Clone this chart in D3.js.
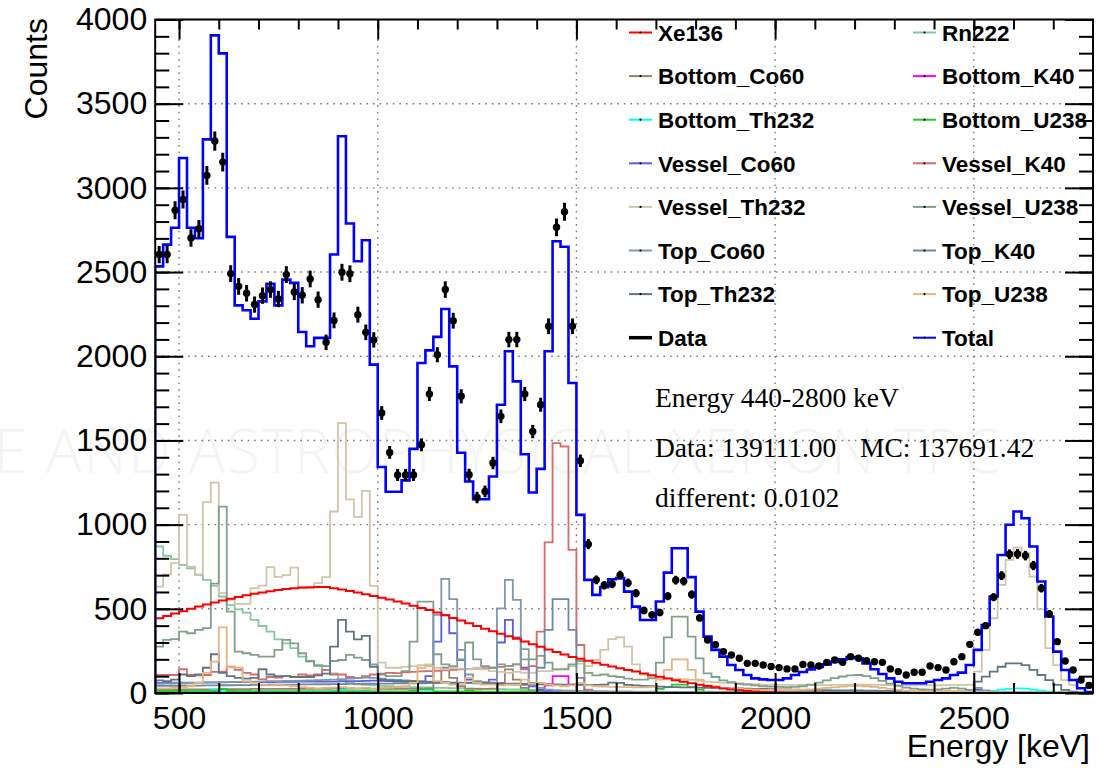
<!DOCTYPE html>
<html>
<head>
<meta charset="utf-8">
<script src="https://cdn.jsdelivr.net/npm/d3@7"></script>
<style>
  html, body { margin: 0; padding: 0; background: #ffffff; }
  svg { display: block; }
</style>
</head>
<body>
<svg id="chart" width="1117" height="768"></svg>
<script>
// ---- binning and axis ranges ----
const binLow = 440;
const binWidth = 20;
const energyRange = [440, 2800];
const countRange = [0, 4000];
const majorXTicks = [500, 1000, 1500, 2000, 2500];
const majorYTicks = [0, 500, 1000, 1500, 2000, 2500, 3000, 3500, 4000];

// ---- measured spectrum (counts per 20 keV bin) ----
const dataCounts = [
  2604, 2604, 2867, 2931, 2703, 2757, 3074, 3278, 3153, 2491,
  2415, 2374, 2307, 2360, 2396, 2340, 2485, 2382, 2362, 2459,
  2336, 2083, 2213, 2499, 2490, 2247, 2142, 2097, 1663, 1429,
  1295, 1295, 1295, 1474, 1776, 2009, 2396, 2211, 1762, 1296,
  1161, 1197, 1366, 1643, 2099, 2099, 1776, 1553, 1712, 2178,
  2766, 2858, 2178, 1379, 884, 672, 640, 648, 700, 654,
  593, 490, 464, 478, 575, 670, 664, 585, 446, 315,
  287, 246, 226, 206, 176, 176, 166, 157, 151, 143,
  143, 170, 166, 160, 182, 196, 182, 216, 206, 192,
  186, 182, 143, 127, 107, 123, 123, 160, 151, 137,
  186, 216, 289, 361, 400, 569, 697, 824, 826, 816,
  757, 622, 470, 305, 190, 137, 77, 45
];

// ---- summed Monte Carlo ----
const totalMC = [
  2534, 2663, 2763, 3177, 2763, 2701, 3288, 3906, 3799, 2709,
  2302, 2273, 2223, 2326, 2430, 2302, 2455, 2436, 2144, 2059,
  2109, 2109, 2604, 3307, 2788, 2564, 2689, 1950, 1342, 1195,
  1195, 1263, 1450, 1960, 2035, 2115, 2281, 1940, 1427, 1256,
  1151, 1151, 1286, 1712, 2030, 1851, 1418, 1191, 1331, 2030,
  2683, 2650, 1841, 1058, 672, 583, 628, 676, 682, 602,
  513, 434, 434, 543, 715, 860, 860, 688, 483, 335,
  256, 216, 166, 137, 107, 87, 81, 77, 77, 87,
  107, 125, 140, 155, 170, 185, 200, 214, 206, 176,
  141, 113, 87, 67, 58, 58, 58, 67, 77, 87,
  107, 121, 166, 256, 404, 573, 820, 999, 1078, 1038,
  870, 662, 454, 246, 137, 77, 28, 5
];

// ---- individual background / signal components ----
const xe136 = [
  444, 458, 472, 486, 500, 513, 526, 538, 549, 560,
  570, 580, 589, 597, 604, 611, 617, 622, 626, 628,
  630, 629, 622, 615, 606, 597, 587, 576, 566, 555,
  543, 531, 518, 505, 493, 478, 462, 446, 430, 414,
  398, 382, 367, 352, 337, 322, 306, 290, 274, 258,
  243, 228, 214, 203, 192, 180, 168, 157, 147, 137,
  127, 116, 106, 96, 86, 76, 67, 58, 49, 41,
  34, 27, 21, 16, 12, 9, 6, 4, 3, 2,
  1, 1, 1, 1, 0, 0, 0, 0, 0, 0,
  0, 0, 0, 0, 0, 0, 0, 0, 0, 0,
  0, 0, 0, 0, 0, 0, 0, 0, 0, 0,
  0, 0, 0, 0, 0, 0, 0, 0
];
const rn222 = [
  870, 815, 795, 761, 741, 702, 672, 636, 573, 523,
  497, 477, 434, 398, 365, 319, 295, 266, 216, 186,
  160, 137, 117, 77, 60, 52, 48, 45, 42, 40,
  38, 36, 35, 34, 33, 31, 30, 29, 28, 27,
  26, 25, 24, 23, 22, 21, 20, 19, 18, 17,
  16, 15, 14, 13, 12, 11, 10, 10, 9, 9,
  8, 8, 7, 7, 7, 6, 6, 6, 5, 5,
  5, 5, 4, 4, 4, 4, 3, 3, 3, 3,
  3, 3, 3, 2, 2, 2, 2, 2, 2, 2,
  2, 2, 2, 2, 2, 1, 1, 1, 1, 1,
  1, 1, 1, 1, 1, 1, 1, 1, 1, 1,
  1, 1, 1, 1, 1, 1, 1, 1
];
const bottomCo60 = [
  20, 20, 21, 21, 21, 22, 22, 22, 23, 23,
  23, 23, 24, 24, 24, 24, 25, 25, 25, 25,
  25, 25, 26, 26, 26, 26, 26, 26, 25, 25,
  25, 25, 25, 26, 28, 60, 150, 90, 40, 25,
  24, 24, 26, 60, 140, 80, 30, 10, 8, 7,
  6, 6, 5, 5, 5, 5, 4, 4, 4, 4,
  4, 4, 4, 4, 3, 3, 3, 3, 3, 3,
  3, 3, 3, 3, 3, 3, 3, 3, 2, 2,
  2, 2, 2, 2, 2, 2, 2, 2, 2, 2,
  2, 2, 2, 2, 2, 2, 2, 2, 2, 2,
  2, 2, 4, 8, 4, 2, 1, 1, 1, 1,
  1, 1, 1, 1, 1, 1, 1, 1
];
const bottomK40 = [
  8, 8, 8, 8, 8, 8, 8, 8, 8, 8,
  8, 8, 8, 8, 8, 8, 8, 7, 7, 7,
  7, 7, 7, 7, 7, 7, 7, 7, 7, 7,
  7, 7, 7, 7, 7, 7, 6, 6, 6, 6,
  6, 6, 6, 6, 6, 6, 6, 6, 15, 45,
  100, 100, 50, 10, 1, 0, 0, 0, 0, 0,
  0, 0, 0, 0, 0, 0, 0, 0, 0, 0,
  0, 0, 0, 0, 0, 0, 0, 0, 0, 0,
  0, 0, 0, 0, 0, 0, 0, 0, 0, 0,
  0, 0, 0, 0, 0, 0, 0, 0, 0, 0,
  0, 0, 0, 0, 0, 0, 0, 0, 0, 0,
  0, 0, 0, 0, 0, 0, 0, 0
];
const bottomTh232 = [
  10, 10, 11, 12, 11, 11, 13, 20, 11, 10,
  10, 10, 10, 11, 10, 10, 10, 10, 10, 10,
  10, 10, 12, 18, 12, 11, 12, 8, 6, 6,
  6, 6, 6, 6, 6, 5, 5, 5, 5, 5,
  5, 5, 5, 5, 5, 5, 5, 5, 5, 5,
  5, 5, 5, 5, 5, 5, 5, 5, 5, 5,
  4, 4, 4, 4, 4, 4, 4, 4, 4, 4,
  4, 4, 4, 4, 4, 4, 4, 4, 4, 4,
  4, 4, 4, 4, 4, 4, 4, 4, 4, 4,
  4, 4, 4, 4, 4, 4, 3, 3, 3, 3,
  3, 3, 3, 5, 8, 13, 20, 25, 28, 26,
  20, 14, 8, 4, 2, 2, 2, 2
];
const bottomU238 = [
  12, 12, 12, 12, 11, 11, 11, 13, 25, 12,
  11, 11, 10, 10, 10, 10, 10, 10, 10, 10,
  10, 10, 10, 10, 10, 9, 9, 9, 9, 9,
  9, 9, 12, 20, 20, 10, 9, 9, 9, 12,
  9, 8, 8, 8, 8, 8, 10, 8, 8, 8,
  8, 8, 8, 9, 7, 7, 7, 7, 7, 6,
  6, 6, 8, 25, 35, 50, 50, 35, 20, 8,
  6, 5, 5, 5, 5, 4, 4, 4, 4, 4,
  4, 4, 5, 6, 7, 8, 10, 10, 10, 9,
  8, 6, 5, 4, 3, 3, 3, 3, 3, 3,
  3, 3, 3, 3, 3, 3, 3, 3, 3, 3,
  2, 2, 2, 2, 2, 1, 1, 1
];
const vesselCo60 = [
  60, 61, 61, 62, 62, 62, 63, 63, 63, 64,
  64, 64, 65, 65, 65, 66, 66, 66, 67, 67,
  67, 68, 68, 69, 70, 71, 72, 73, 72, 70,
  68, 66, 64, 62, 100, 305, 464, 355, 196, 80,
  60, 55, 80, 300, 434, 330, 150, 40, 20, 12,
  10, 9, 8, 8, 7, 7, 7, 6, 6, 6,
  6, 5, 5, 5, 5, 5, 5, 4, 4, 4,
  4, 4, 4, 4, 4, 4, 3, 3, 3, 3,
  3, 3, 3, 3, 3, 3, 3, 3, 3, 3,
  3, 3, 3, 3, 3, 3, 3, 3, 3, 3,
  3, 4, 10, 20, 10, 3, 2, 2, 2, 2,
  1, 1, 1, 1, 1, 1, 1, 1
];
const vesselK40 = [
  107, 107, 107, 141, 107, 105, 107, 125, 127, 156,
  137, 120, 110, 81, 95, 92, 100, 95, 110, 105,
  110, 137, 110, 110, 95, 90, 100, 110, 115, 120,
  118, 122, 125, 128, 130, 132, 135, 138, 140, 142,
  145, 148, 150, 155, 160, 170, 140, 160, 365, 894,
  1484, 1464, 850, 285, 20, 5, 3, 2, 1, 1,
  0, 0, 0, 0, 0, 0, 0, 0, 0, 0,
  0, 0, 0, 0, 0, 0, 0, 0, 0, 0,
  0, 0, 0, 0, 0, 0, 0, 0, 0, 0,
  0, 0, 0, 0, 0, 0, 0, 0, 0, 0,
  0, 0, 0, 0, 0, 0, 0, 0, 0, 0,
  0, 0, 0, 0, 0, 0, 0, 0
];
const vesselTh232 = [
  632, 705, 771, 1058, 751, 705, 1134, 1250, 593, 553,
  529, 529, 622, 638, 747, 690, 700, 745, 622, 622,
  652, 688, 1078, 1603, 1150, 1046, 1200, 636, 180, 150,
  150, 155, 160, 165, 170, 150, 140, 150, 145, 140,
  150, 140, 130, 125, 120, 125, 120, 120, 130, 130,
  140, 145, 160, 175, 160, 196, 256, 320, 331, 275,
  170, 110, 95, 90, 88, 85, 82, 78, 72, 68,
  64, 60, 58, 56, 54, 52, 50, 49, 48, 48,
  48, 48, 47, 47, 47, 48, 48, 49, 50, 50,
  49, 48, 47, 46, 46, 46, 46, 46, 46, 47,
  47, 48, 48, 127, 256, 444, 642, 791, 864, 830,
  692, 497, 266, 166, 77, 48, 30, 5
];
const vesselU238 = [
  275, 315, 320, 365, 355, 375, 385, 650, 1107, 483,
  246, 236, 226, 216, 216, 256, 315, 295, 236, 190,
  166, 160, 190, 196, 226, 210, 196, 170, 110, 100,
  100, 130, 305, 543, 543, 230, 170, 160, 200, 300,
  200, 160, 150, 170, 160, 170, 260, 200, 220, 180,
  140, 140, 170, 190, 120, 105, 110, 100, 95, 85,
  80, 80, 87, 180, 330, 454, 454, 335, 206, 117,
  95, 75, 65, 55, 50, 45, 40, 38, 36, 35,
  36, 40, 50, 62, 75, 88, 98, 105, 107, 100,
  88, 72, 56, 42, 32, 26, 22, 20, 22, 26,
  30, 26, 18, 12, 8, 7, 6, 6, 5, 5,
  4, 4, 3, 3, 2, 2, 1, 1
];
const topCo60 = [
  55, 56, 58, 58, 60, 60, 62, 62, 64, 64,
  66, 66, 68, 68, 70, 70, 72, 72, 74, 75,
  76, 78, 80, 82, 85, 88, 92, 90, 85, 80,
  78, 75, 72, 70, 68, 464, 678, 557, 256, 110,
  70, 65, 62, 503, 672, 553, 200, 60, 30, 20,
  15, 12, 12, 10, 10, 9, 9, 8, 8, 8,
  7, 7, 7, 7, 6, 6, 6, 6, 6, 6,
  5, 5, 5, 5, 5, 5, 5, 5, 5, 5,
  4, 4, 4, 4, 4, 4, 4, 4, 4, 4,
  4, 4, 4, 4, 4, 4, 4, 4, 4, 4,
  4, 5, 15, 30, 15, 4, 3, 3, 2, 2,
  2, 2, 2, 2, 2, 2, 2, 2
];
const topK40 = [
  42, 42, 43, 43, 44, 44, 45, 45, 46, 46,
  47, 47, 48, 48, 49, 49, 50, 50, 51, 51,
  52, 52, 53, 53, 54, 54, 55, 55, 56, 56,
  57, 57, 58, 58, 59, 59, 60, 60, 61, 62,
  62, 60, 58, 55, 52, 50, 48, 60, 150, 375,
  557, 557, 375, 90, 2, 1, 1, 1, 1, 1,
  0, 0, 0, 0, 0, 0, 0, 0, 0, 0,
  0, 0, 0, 0, 0, 0, 0, 0, 0, 0,
  0, 0, 0, 0, 0, 0, 0, 0, 0, 0,
  0, 0, 0, 0, 0, 0, 0, 0, 0, 0,
  0, 0, 0, 0, 0, 0, 0, 0, 0, 0,
  0, 0, 0, 0, 0, 0, 0, 0
];
const topTh232 = [
  75, 70, 80, 110, 100, 110, 150, 230, 120, 100,
  90, 85, 90, 141, 110, 100, 100, 95, 95, 95,
  105, 115, 275, 434, 365, 319, 339, 156, 80, 75,
  72, 70, 70, 68, 66, 65, 64, 62, 60, 60,
  58, 58, 57, 56, 55, 55, 54, 53, 52, 52,
  51, 50, 50, 49, 48, 48, 50, 62, 60, 48,
  45, 42, 40, 38, 36, 35, 34, 33, 32, 31,
  30, 29, 28, 27, 26, 25, 24, 23, 22, 21,
  20, 19, 18, 18, 17, 16, 16, 15, 15, 14,
  14, 13, 13, 12, 12, 11, 11, 10, 10, 10,
  9, 9, 8, 67, 97, 127, 156, 176, 176, 166,
  137, 107, 77, 48, 18, 8, 4, 2
];
const topU238 = [
  28, 28, 30, 35, 40, 60, 120, 186, 390, 153,
  150, 70, 60, 50, 45, 50, 45, 40, 35, 30,
  28, 30, 32, 35, 30, 28, 30, 25, 30, 32,
  35, 40, 60, 150, 160, 70, 60, 50, 55, 90,
  60, 50, 50, 45, 50, 50, 80, 55, 60, 50,
  45, 40, 45, 60, 45, 40, 38, 36, 35, 35,
  34, 34, 36, 80, 137, 200, 200, 137, 80, 45,
  40, 30, 26, 24, 22, 20, 19, 18, 18, 18,
  19, 20, 22, 26, 30, 34, 38, 42, 42, 40,
  36, 30, 24, 18, 14, 12, 10, 9, 9, 10,
  12, 10, 8, 6, 5, 4, 4, 4, 4, 3,
  3, 3, 2, 2, 2, 1, 1, 1
];

// ---- legend / series names and colours ----
const seriesNames = ["Xe136", "Rn222", "Bottom_Co60", "Bottom_K40", "Bottom_Th232", "Bottom_U238",
  "Vessel_Co60", "Vessel_K40", "Vessel_Th232", "Vessel_U238", "Top_Co60", "Top_K40",
  "Top_Th232", "Top_U238", "Data", "Total"];
const seriesColors = ["#ff0000", "#86c7a0", "#9b7f73", "#ff00ff", "#00ffff", "#22cc22",
  "#5c5ce6", "#d66b6b", "#cfc6aa", "#7fa08a", "#7f98aa", "#6e8aa0",
  "#627384", "#e6b47c", "#000000", "#0000ff"];
const seriesValues = [xe136, rn222, bottomCo60, bottomK40, bottomTh232, bottomU238,
  vesselCo60, vesselK40, vesselTh232, vesselU238, topCo60, topK40, topTh232, topU238];

// ---- summary text ----
const summaryLines = [
  { parts: [["Energy 440-2800 keV", 0]] },
  { parts: [["Data: 139111.00", 0], ["MC: 137691.42", 205]] },
  { parts: [["different: 0.0102", 0]] }
];

// ================= drawing =================
const svg = d3.select("#chart");
const W = 1117, H = 768;
const frame = { left: 155.2, right: 1093, top: 19.5, bottom: 693 };

const x = d3.scaleLinear().domain(energyRange).range([frame.left, frame.right]);
const y = d3.scaleLinear().domain(countRange).range([frame.bottom, frame.top]);

svg.append("rect").attr("width", W).attr("height", H).attr("fill", "#ffffff");

// very faint logo strapline in the background
svg.append("text")
  .attr("x", -6).attr("y", 473)
  .attr("fill", "#f4f4f4")
  .attr("font-family", "'Open Sans', 'Liberation Sans', sans-serif")
  .attr("font-size", 60).attr("font-weight", 300)
  .attr("textLength", 1006).attr("lengthAdjust", "spacing")
  .text("E AND ASTROPHYSICAL XENON TPC");

// clip region for the histograms
svg.append("defs").append("clipPath").attr("id", "plotClip")
  .append("rect")
  .attr("x", frame.left).attr("y", frame.top)
  .attr("width", frame.right - frame.left).attr("height", frame.bottom - frame.top);

// dotted grid at the major ticks
const grid = svg.append("g").attr("stroke", "#7a7a7a").attr("stroke-width", 1.4)
  .attr("stroke-dasharray", "1.6,5");
grid.selectAll("line.gx").data(majorXTicks).join("line")
  .attr("x1", d => x(d)).attr("x2", d => x(d))
  .attr("y1", frame.top).attr("y2", frame.bottom);
grid.selectAll("line.gy").data(majorYTicks.filter(v => v > 0 && v < 4000)).join("line")
  .attr("x1", frame.left).attr("x2", frame.right)
  .attr("y1", d => y(d)).attr("y2", d => y(d));

// step outline of a binned histogram
function histPath(values) {
  let p = "M" + x(binLow) + "," + y(0);
  values.forEach((v, i) => {
    const v0 = Math.max(v, 0);
    p += "V" + y(v0) + "H" + x(binLow + (i + 1) * binWidth);
  });
  p += "V" + y(0);
  return p;
}

const plot = svg.append("g").attr("clip-path", "url(#plotClip)");

// component histograms, Xe136 drawn last so it stays on top
const drawOrder = d3.range(1, seriesValues.length).concat([0]);
drawOrder.forEach(k => {
  plot.append("path")
    .attr("d", histPath(seriesValues[k]))
    .attr("fill", "none")
    .attr("stroke", seriesColors[k])
    .attr("stroke-width", k === 0 ? 2 : 1.8);
});

// summed MC
plot.append("path")
  .attr("d", histPath(totalMC))
  .attr("fill", "none")
  .attr("stroke", seriesColors[15])
  .attr("stroke-width", 2.6);

// data with statistical errors
const pts = plot.append("g").attr("fill", "#000").attr("stroke", "#000");
pts.selectAll("line").data(dataCounts).join("line")
  .attr("x1", (d, i) => x(binLow + (i + 0.5) * binWidth))
  .attr("x2", (d, i) => x(binLow + (i + 0.5) * binWidth))
  .attr("y1", d => y(d - Math.sqrt(d)))
  .attr("y2", d => y(d + Math.sqrt(d)))
  .attr("stroke-width", 3);
pts.selectAll("circle").data(dataCounts).join("circle")
  .attr("cx", (d, i) => x(binLow + (i + 0.5) * binWidth))
  .attr("cy", d => y(d))
  .attr("r", 3.7)
  .attr("stroke", "none");

// ---- axes with inward ticks ----
const axisFont = "'Liberation Sans', Arial, Helvetica, sans-serif";
function styleAxis(g) {
  g.select(".domain").remove();
  g.selectAll(".tick line").attr("stroke", "#000").attr("stroke-width", 2);
  g.selectAll("text").attr("fill", "#000").attr("font-family", axisFont).attr("font-size", 32);
}
const minorX = d3.range(500, 2800, 100);
const minorY = d3.range(0, 4001, 100);

svg.append("g").attr("transform", `translate(${frame.left},0)`)
  .call(d3.axisLeft(y).tickValues(minorY).tickSizeInner(-14).tickSizeOuter(0).tickFormat(""))
  .call(styleAxis);
svg.append("g").attr("transform", `translate(${frame.left},0)`)
  .call(d3.axisLeft(y).tickValues(majorYTicks).tickSizeInner(-28).tickSizeOuter(0).tickPadding(8).tickFormat(d3.format("d")))
  .call(styleAxis);
svg.append("g").attr("transform", `translate(${frame.right},0)`)
  .call(d3.axisRight(y).tickValues(minorY).tickSizeInner(-14).tickSizeOuter(0).tickFormat(""))
  .call(styleAxis);
svg.append("g").attr("transform", `translate(${frame.right},0)`)
  .call(d3.axisRight(y).tickValues(majorYTicks).tickSizeInner(-28).tickSizeOuter(0).tickFormat(""))
  .call(styleAxis);

svg.append("g").attr("transform", `translate(0,${frame.bottom})`)
  .call(d3.axisBottom(x).tickValues(minorX).tickSizeInner(-10).tickSizeOuter(0).tickFormat(""))
  .call(styleAxis);
svg.append("g").attr("transform", `translate(0,${frame.bottom})`)
  .call(d3.axisBottom(x).tickValues(majorXTicks).tickSizeInner(-20).tickSizeOuter(0).tickPadding(13).tickFormat(d3.format("d")))
  .call(styleAxis);
svg.append("g").attr("transform", `translate(0,${frame.top})`)
  .call(d3.axisTop(x).tickValues(minorX).tickSizeInner(-10).tickSizeOuter(0).tickFormat(""))
  .call(styleAxis);
svg.append("g").attr("transform", `translate(0,${frame.top})`)
  .call(d3.axisTop(x).tickValues(majorXTicks).tickSizeInner(-20).tickSizeOuter(0).tickFormat(""))
  .call(styleAxis);

// frame
svg.append("rect")
  .attr("x", frame.left).attr("y", frame.top)
  .attr("width", frame.right - frame.left).attr("height", frame.bottom - frame.top)
  .attr("fill", "none").attr("stroke", "#000").attr("stroke-width", 2);

// axis titles
svg.append("text")
  .attr("transform", "translate(47,18) rotate(-90)")
  .attr("text-anchor", "end")
  .attr("font-family", axisFont).attr("font-size", 32)
  .text("Counts");
svg.append("text")
  .attr("x", 1090).attr("y", 757)
  .attr("text-anchor", "end")
  .attr("font-family", axisFont).attr("font-size", 32)
  .text("Energy [keV]");

// ---- legend (two columns, filled row by row) ----
const legend = svg.append("g").attr("font-family", axisFont).attr("font-weight", "bold").attr("font-size", 22.5);
const colX = [629, 913];
seriesNames.forEach((name, k) => {
  const col = k % 2, row = Math.floor(k / 2);
  const cy = 32.5 + row * 43.6;
  const lx = colX[col];
  const isData = name === "Data";
  legend.append("line")
    .attr("x1", lx).attr("x2", lx + 23)
    .attr("y1", cy).attr("y2", cy)
    .attr("stroke", seriesColors[k])
    .attr("stroke-width", isData ? 3.5 : 2);
  if (!isData) {
    legend.append("circle").attr("cx", lx + 11.5).attr("cy", cy).attr("r", 1.1).attr("fill", "#000");
  }
  legend.append("text")
    .attr("x", lx + 29).attr("y", cy + 8.2)
    .attr("fill", "#000")
    .text(name);
});

// ---- summary text ----
const summary = svg.append("g").attr("font-family", "'Liberation Serif', 'Times New Roman', serif").attr("font-size", 27.5).attr("fill", "#000");
summaryLines.forEach((line, r) => {
  line.parts.forEach(([txt, dx]) => {
    summary.append("text").attr("x", 655 + dx).attr("y", 407 + r * 50).text(txt);
  });
});
</script>
</body>
</html>
